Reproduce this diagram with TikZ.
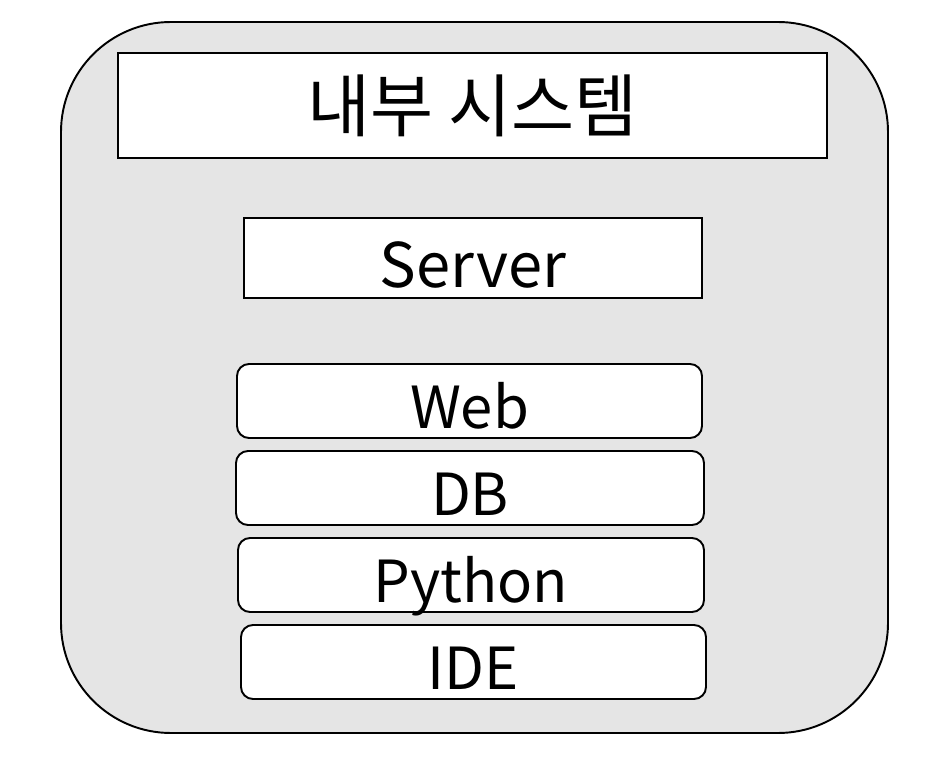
\documentclass[tikz,border=0pt]{standalone}
\usepackage{fontspec}
\setmainfont{Noto Sans CJK KR}
\usepackage{tikz}
\definecolor{panelgray}{HTML}{E5E5E5}
\tikzset{
  panel/.style={draw=black, fill=panelgray, line width=1.1pt, rounded corners=2.2cm},
  titlebox/.style={draw=black, fill=white, line width=1.1pt, minimum width=14.18cm, minimum height=2.10cm, inner sep=0pt, font=\fontsize{39}{44}\selectfont},
  serverbox/.style={draw=black, fill=white, line width=1.1pt, minimum width=9.16cm, minimum height=1.60cm, inner sep=0pt, text height=1.18cm, text depth=0pt, font=\fontsize{35}{40}\selectfont},
  layerbox/.style={draw=black, fill=white, line width=1.1pt, rounded corners=0.24cm, minimum height=1.48cm, inner sep=0pt, text height=1.09cm, text depth=0pt, font=\fontsize{33}{38}\selectfont},
}

\begin{document}
\begin{tikzpicture}
\useasboundingbox (0,0) rectangle (18.76,15.52);
\draw[panel] (1.22,0.86) rectangle (17.76,15.08);
\node[titlebox] (title) at (9.45,13.41) {내부 시스템};
\node[serverbox] (server) at (9.46,10.36) {Server};
\node[layerbox, minimum width=9.30cm] (web) at (9.39,7.50) {Web};
\node[layerbox, minimum width=9.36cm] (db) at (9.40,5.76) {DB};
\node[layerbox, minimum width=9.32cm] (python) at (9.42,4.02) {Python};
\node[layerbox, minimum width=9.30cm] (ide) at (9.47,2.28) {IDE};
\end{tikzpicture}
\end{document}
